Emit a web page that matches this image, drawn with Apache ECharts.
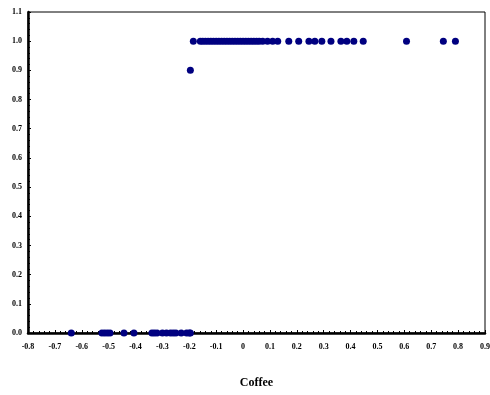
<!DOCTYPE html>
<html>
<head>
<meta charset="utf-8">
<script src="https://cdn.jsdelivr.net/npm/echarts@6/dist/echarts.min.js"></script>
<style>
  html, body { margin: 0; padding: 0; background: #fff; }
  #chart { width: 490px; height: 395px; }
</style>
</head>
<body>
<div id="chart"></div>
<script>
// Coffee values where the response is 1
const coffeeOne = [-0.185, -0.159, -0.15, -0.14, -0.13, -0.12, -0.11, -0.10, -0.09, -0.08,
  -0.07, -0.06, -0.05, -0.04, -0.03, -0.02, -0.01, 0.0, 0.01, 0.02, 0.03, 0.04, 0.05,
  0.06, 0.073, 0.091, 0.11, 0.129, 0.17, 0.207, 0.245, 0.267, 0.293, 0.327, 0.364,
  0.386, 0.412, 0.447, 0.608, 0.745, 0.79]
// Coffee values where the response is 0
const coffeeZero = [-0.639, -0.525, -0.515, -0.505, -0.495, -0.443, -0.406, -0.339,
  -0.33, -0.32, -0.30, -0.285, -0.27, -0.26, -0.25, -0.23, -0.21, -0.2, -0.196]
// the single point at 0.9
const coffeeMid = [-0.196]
const midValue = 0.9

const pts = []
coffeeOne.forEach(x => pts.push([x, 1]))
coffeeZero.forEach(x => pts.push([x, 0]))
coffeeMid.forEach(x => pts.push([x, midValue]))

const labelFont = {
  fontFamily: 'Liberation Serif',
  fontWeight: 'bold',
  fontSize: 8,
  color: '#000'
}

const chart = echarts.init(document.getElementById('chart'))
chart.setOption({
  animation: false,
  grid: {
    left: 28, right: 5, top: 12, bottom: 62,
    outerBoundsMode: 'none',
    containLabel: false,
    show: true,
    borderColor: '#000',
    borderWidth: 1
  },
  xAxis: {
    type: 'value',
    min: -0.8,
    max: 0.9,
    interval: 0.1,
    name: 'Coffee',
    nameLocation: 'middle',
    nameGap: 44,
    nameTextStyle: {
      fontFamily: 'Liberation Serif',
      fontWeight: 'bold',
      fontSize: 12,
      color: '#000'
    },
    splitLine: { show: false },
    axisLine: { onZero: false, lineStyle: { color: '#000', width: 2.5 } },
    axisTick: { inside: true, length: 3, lineStyle: { color: '#000' } },
    minorTick: { show: true, splitNumber: 5, length: 2, lineStyle: { color: '#000' } },
    axisLabel: Object.assign({ margin: 10, formatter: v => String(Math.round(v * 10) / 10) }, labelFont)
  },
  yAxis: {
    type: 'value',
    min: 0,
    max: 1.1,
    interval: 0.1,
    splitLine: { show: false },
    axisLine: { onZero: false, lineStyle: { color: '#000', width: 2.5 } },
    axisTick: { inside: true, length: 3, lineStyle: { color: '#000' } },
    minorTick: { show: true, splitNumber: 5, length: 2, lineStyle: { color: '#000' } },
    axisLabel: Object.assign({ margin: 6, formatter: v => v.toFixed(1) }, labelFont)
  },
  series: [
    {
      type: 'scatter',
      data: pts,
      symbol: 'circle',
      symbolSize: 7,
      itemStyle: { color: '#000080', opacity: 1 }
    }
  ]
})
</script>
</body>
</html>
